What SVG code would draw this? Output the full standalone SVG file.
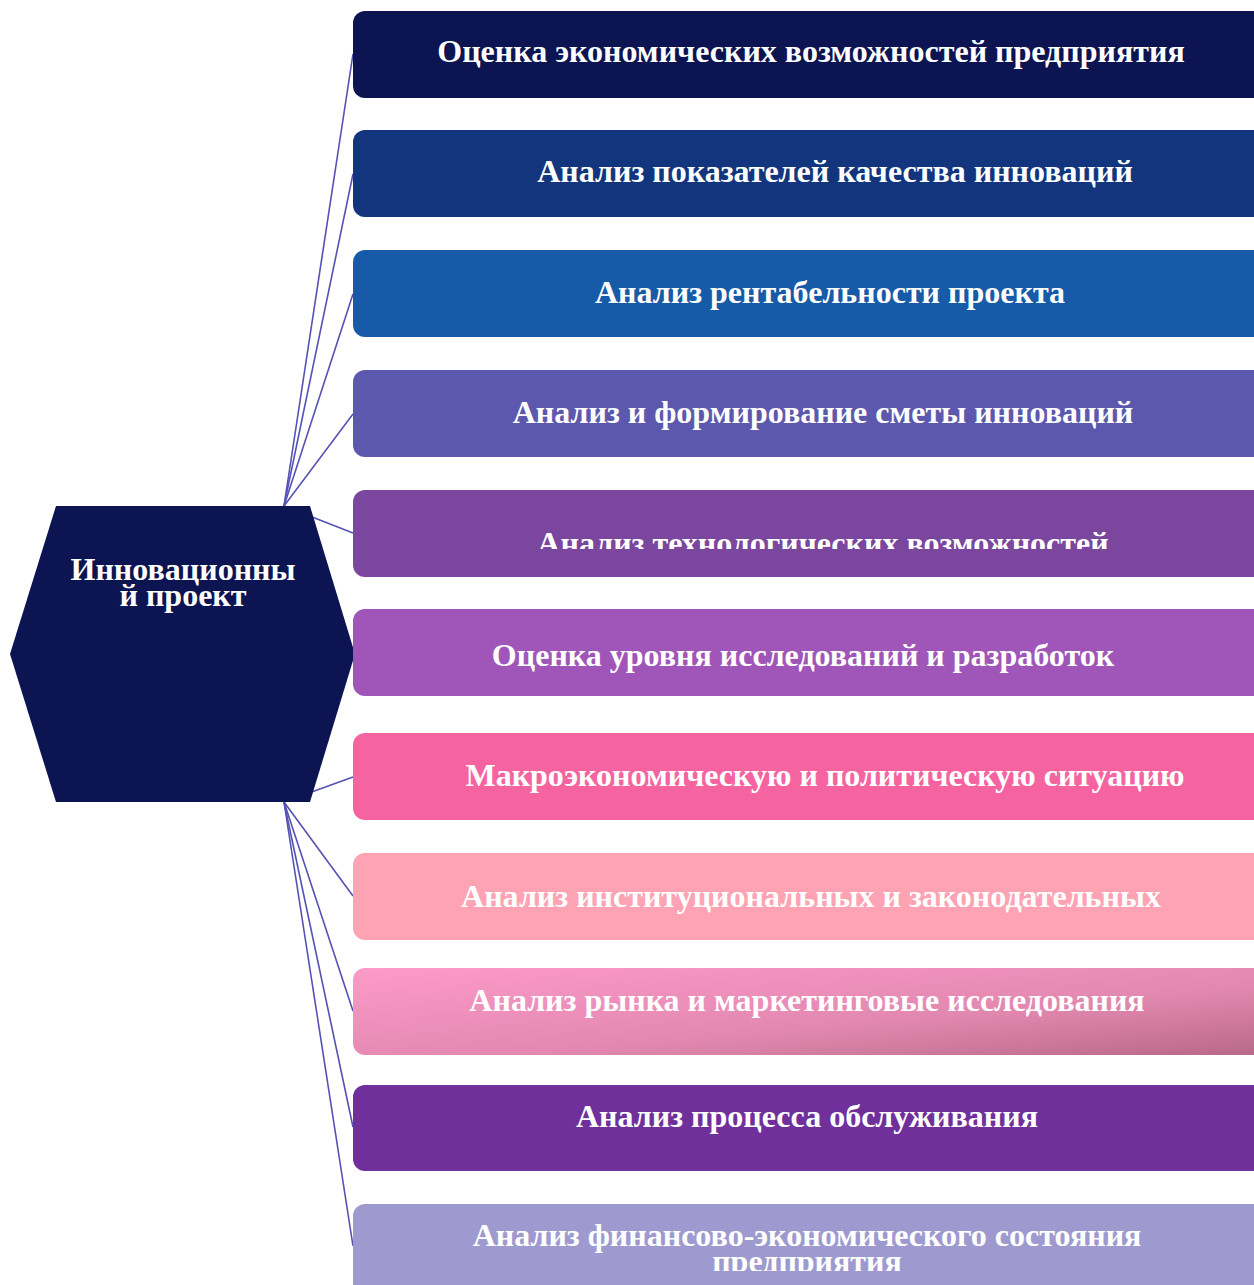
<svg xmlns="http://www.w3.org/2000/svg" width="1254" height="1285" viewBox="0 0 1254 1285">
<style>
.t{font-family:"Liberation Serif","Times New Roman",serif;font-weight:bold;font-size:32px;fill:#fff;text-anchor:middle}
.c{stroke:#5552b4;stroke-width:1.6;fill:none}
</style>
<defs>
<linearGradient id="g9" x1="0" y1="0" x2="1" y2="1">
<stop offset="0" stop-color="#fd9ac9"/>
<stop offset="0.6" stop-color="#e288b0"/>
<stop offset="1" stop-color="#b86888"/>
</linearGradient>
<clipPath id="cl5"><rect x="353" y="490" width="901" height="59"/></clipPath>
<clipPath id="cl11"><rect x="353" y="1204" width="901" height="67"/></clipPath>
</defs>
<rect width="1254" height="1285" fill="#fff"/>
<g id="connectors">
<line class="c" x1="284" y1="506" x2="353" y2="54"/>
<line class="c" x1="284" y1="506" x2="353" y2="174"/>
<line class="c" x1="284" y1="506" x2="353" y2="294"/>
<line class="c" x1="284" y1="506" x2="353" y2="414"/>
<line class="c" x1="284" y1="506" x2="353" y2="533"/>
<line class="c" x1="347" y1="645" x2="355" y2="654"/>
<line class="c" x1="284" y1="802" x2="353" y2="777"/>
<line class="c" x1="284" y1="802" x2="353" y2="896"/>
<line class="c" x1="284" y1="802" x2="353" y2="1011"/>
<line class="c" x1="284" y1="802" x2="353" y2="1127"/>
<line class="c" x1="284" y1="802" x2="353" y2="1246"/>
</g>
<g id="center">
<polygon points="56,506 310,506 355,654 310,802 56,802 10,654" fill="#0c1452"/>
<text class="t" x="183" y="580">Инновационны</text>
<text class="t" x="183" y="606">й проект</text>
</g>
<g id="n1"><rect x="353" y="11" width="920" height="87" rx="12" fill="#0c1452"/><text class="t" x="811" y="62">Оценка экономических возможностей предприятия</text></g>
<g id="n2"><rect x="353" y="130" width="920" height="87" rx="12" fill="#12357e"/><text class="t" x="835" y="182">Анализ показателей качества инноваций</text></g>
<g id="n3"><rect x="353" y="250" width="920" height="87" rx="12" fill="#175ba8"/><text class="t" x="830" y="303">Анализ рентабельности проекта</text></g>
<g id="n4"><rect x="353" y="370" width="920" height="87" rx="12" fill="#5c58ae"/><text class="t" x="823" y="423">Анализ и формирование сметы инноваций</text></g>
<g id="n5"><rect x="353" y="490" width="920" height="87" rx="12" fill="#7b469d"/><text class="t" x="823" y="554" clip-path="url(#cl5)">Анализ технологических возможностей</text></g>
<g id="n6"><rect x="353" y="609" width="920" height="87" rx="12" fill="#a056b8"/><text class="t" x="803" y="666">Оценка уровня исследований и разработок</text></g>
<g id="n7"><rect x="353" y="733" width="920" height="87" rx="12" fill="#f564a0"/><text class="t" x="825" y="786">Макроэкономическую и политическую ситуацию</text></g>
<g id="n8"><rect x="353" y="853" width="920" height="87" rx="12" fill="#fea3b4"/><text class="t" x="811" y="907">Анализ институциональных и законодательных</text></g>
<g id="n9"><rect x="353" y="968" width="920" height="87" rx="12" fill="url(#g9)"/><text class="t" x="807" y="1011">Анализ рынка и маркетинговые исследования</text></g>
<g id="n10"><rect x="353" y="1085" width="920" height="86" rx="12" fill="#70309c"/><text class="t" x="807" y="1127">Анализ процесса обслуживания</text></g>
<g id="n11"><rect x="353" y="1204" width="920" height="100" rx="12" fill="#9e9ad0"/><g clip-path="url(#cl11)"><text class="t" x="807" y="1246">Анализ финансово-экономического состояния</text><text class="t" x="807" y="1272">предприятия</text></g></g>
</svg>
